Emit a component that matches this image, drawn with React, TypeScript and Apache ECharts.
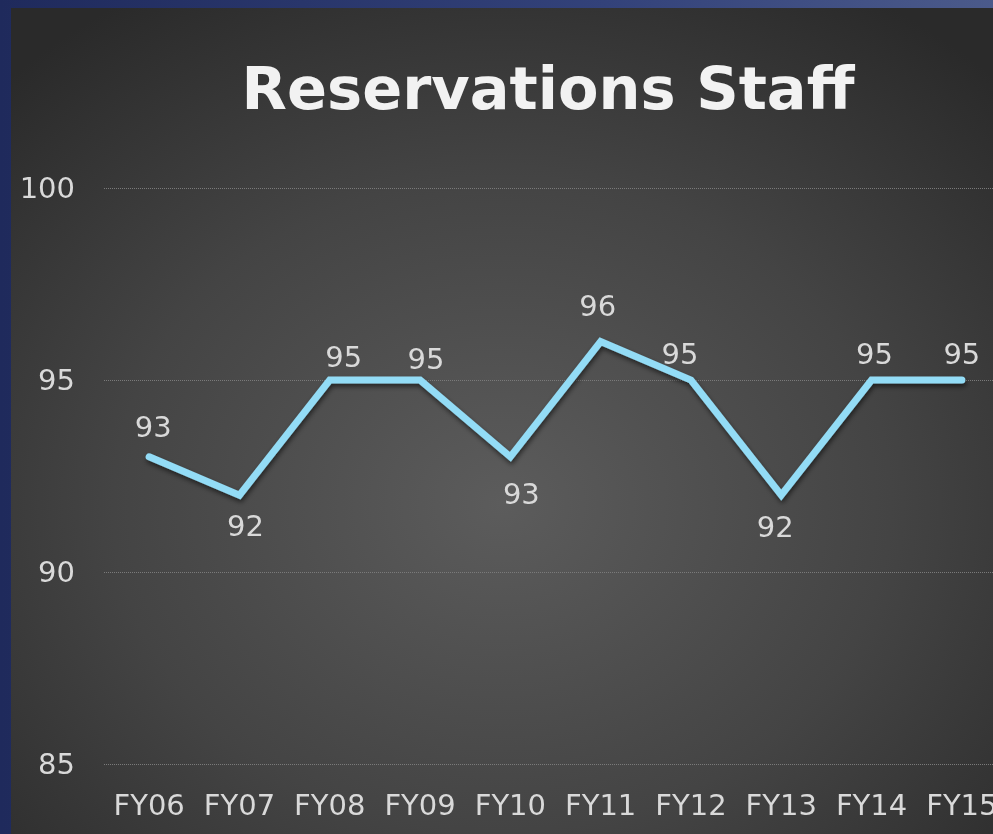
import React, { useEffect, useRef } from "react";
import * as echarts from "echarts";

const categories = ["FY06", "FY07", "FY08", "FY09", "FY10", "FY11", "FY12", "FY13", "FY14", "FY15"];
const staffValues = [93, 92, 95, 95, 93, 96, 95, 92, 95, 95];
const yTicks = [85, 90, 95, 100];
const titleText = "Reservations Staff";

// label placement (style only): offset of label centre from the point
const labelOffsets: [number, number][] = [
  [4, -30], [6, 31], [14, -23], [6, -21], [11, 37],
  [-3, -36], [-11, -26], [-6, 32], [3, -26], [0, -26],
];

const W = 1010;
const H = 834;

export default function App() {
  const ref = useRef<HTMLDivElement>(null);
  useEffect(() => {
    if (!ref.current) return;
    const chart = echarts.init(ref.current, null, { renderer: "svg" });
    const font = "'DejaVu Sans', Verdana, sans-serif";
    chart.setOption({
      animation: false,
      graphic: [
        {
          type: "rect",
          z: -10,
          silent: true,
          shape: { x: 0, y: 0, width: W, height: H },
          style: {
            fill: {
              type: "linear", x: 0, y: 0, x2: 1, y2: 0,
              colorStops: [
                { offset: 0, color: "#1f2a5c" },
                { offset: 0.6, color: "#33427a" },
                { offset: 1, color: "#4c5b8b" },
              ],
            },
          },
        },
        {
          type: "rect",
          z: -9,
          silent: true,
          shape: { x: 11, y: 8, width: 982, height: 826 },
          style: {
            fill: {
              type: "radial", x: 0.5, y: 0.6, r: 0.72,
              colorStops: [
                { offset: 0, color: "#5c5c5c" },
                { offset: 0.55, color: "#444444" },
                { offset: 1, color: "#2a2a2a" },
              ],
            },
          },
        },
        {
          type: "rect",
          z: -9,
          silent: true,
          shape: { x: 993, y: 0, width: W - 993, height: H },
          style: { fill: "#4c5b8b" },
        },
        {
          type: "text",
          z: 5,
          x: 548,
          y: 88,
          style: {
            text: titleText,
            fill: "#f2f2f2",
            font: `bold 59px ${font}`,
            align: "center",
            verticalAlign: "middle",
          },
        },
      ],
      grid: { left: 104, top: 188, width: 903, height: 576, containLabel: false },
      xAxis: {
        type: "category",
        data: categories,
        boundaryGap: true,
        axisLine: { show: false },
        axisTick: { show: false },
        axisLabel: {
          color: "#d9d9d9",
          fontFamily: font,
          fontSize: 29,
          margin: 26,
          interval: 0,
        },
        splitLine: { show: false },
      },
      yAxis: {
        type: "value",
        min: yTicks[0],
        max: yTicks[yTicks.length - 1],
        interval: 5,
        axisLine: { show: false },
        axisTick: { show: false },
        axisLabel: {
          color: "#d9d9d9",
          fontFamily: font,
          fontSize: 29,
          margin: 29,
        },
        splitLine: {
          show: true,
          lineStyle: { color: "#7a7a7a", width: 1, type: [1, 1] },
        },
      },
      series: [
        {
          type: "line",
          data: staffValues.map((v, i) => ({
            value: v,
            label: { offset: labelOffsets[i] },
          })),
          symbol: "circle",
          symbolSize: 2,
          itemStyle: { color: "#93dcf6" },
          lineStyle: {
            color: "#93dcf6",
            width: 7,
            cap: "round",
            join: "miter",
            shadowColor: "rgba(0,0,0,0.55)",
            shadowBlur: 5,
            shadowOffsetX: 1,
            shadowOffsetY: 3,
          },
          label: {
            show: true,
            position: "inside",
            color: "#d9d9d9",
            fontFamily: font,
            fontSize: 29,
          },
          z: 3,
        },
      ],
    });
    return () => chart.dispose();
  }, []);
  return (
    <div
      ref={ref}
      style={{ position: "fixed", left: 0, top: 0, width: W, height: H }}
    />
  );
}
